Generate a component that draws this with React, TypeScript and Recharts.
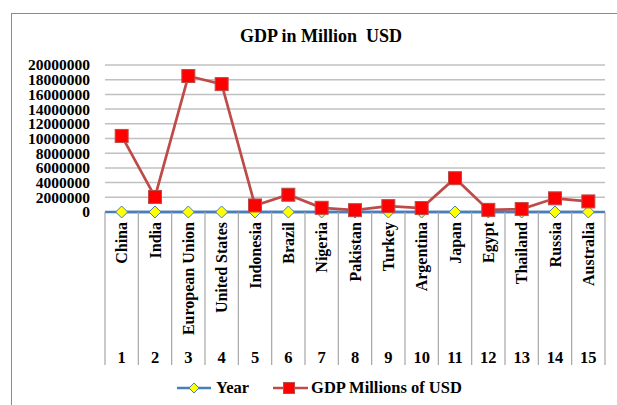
import React from "react"
import { LineChart, Line, XAxis, YAxis, CartesianGrid, Legend } from "recharts"

// ── Data ──────────────────────────────────────────────────────────────────────

const countries = [
  "China", "India", "European Union", "United States", "Indonesia",
  "Brazil", "Nigeria", "Pakistan", "Turkey", "Argentina",
  "Japan", "Egypt", "Thailand", "Russia", "Australia",
]
const ranks = [1, 2, 3, 4, 5, 6, 7, 8, 9, 10, 11, 12, 13, 14, 15]
const yearValues = [2014, 2014, 2014, 2014, 2014, 2014, 2014, 2014, 2014, 2014, 2014, 2014, 2014, 2014, 2014]
const gdpValues = [
  10350000, 2050000, 18500000, 17400000, 890000,
  2350000, 570000, 250000, 800000, 540000,
  4600000, 290000, 400000, 1860000, 1440000,
]
const yTicks = [
  0, 2000000, 4000000, 6000000, 8000000, 10000000,
  12000000, 14000000, 16000000, 18000000, 20000000,
]

const data = countries.map((c, i) => ({
  country: c,
  rank: ranks[i],
  year: yearValues[i],
  gdp: gdpValues[i],
}))

// ── Layout ────────────────────────────────────────────────────────────────────

const W = 617
const H = 405
const MARGIN = { top: 65, right: 12, left: 0, bottom: 0 }
const Y_W = 105
const X_H = 158
const LEGEND_H = 35
const PLOT_BOTTOM = H - MARGIN.bottom - LEGEND_H - X_H
const BAND = (W - MARGIN.left - Y_W - MARGIN.right) / countries.length

const FONT = '"Liberation Serif", "Times New Roman", serif'
const BLUE = "#4a7ebb"
const RED_LINE = "#be4b48"

// ── Ticks ─────────────────────────────────────────────────────────────────────

function YTick({ x, y, payload }: any) {
  return (
    <text
      x={x - 7}
      y={y}
      dy="0.35em"
      textAnchor="end"
      style={{ fontFamily: FONT, fontSize: 15.5, fontWeight: 700, fill: "#000" }}
    >
      {payload.value}
    </text>
  )
}

function XTick({ x, index }: any) {
  const last = index === countries.length - 1
  return (
    <g>
      <line x1={x - BAND / 2} x2={x - BAND / 2} y1={PLOT_BOTTOM} y2={PLOT_BOTTOM + 153} stroke="#a6a6a6" strokeWidth={1.2} />
      {last && (
        <line x1={x + BAND / 2} x2={x + BAND / 2} y1={PLOT_BOTTOM} y2={PLOT_BOTTOM + 153} stroke="#a6a6a6" strokeWidth={1.2} />
      )}
      <text
        transform={`translate(${x}, ${PLOT_BOTTOM + 10}) rotate(-90)`}
        dy="0.35em"
        textAnchor="end"
        style={{ fontFamily: FONT, fontSize: 16, fontWeight: 700, fill: "#000" }}
      >
        {countries[index]}
      </text>
      <text
        x={x}
        y={PLOT_BOTTOM + 145}
        dy="0.35em"
        textAnchor="middle"
        style={{ fontFamily: FONT, fontSize: 16.5, fontWeight: 700, fill: "#000" }}
      >
        {ranks[index]}
      </text>
    </g>
  )
}

// ── Markers ───────────────────────────────────────────────────────────────────

function Diamond({ cx, cy, size = 6 }: any) {
  if (cx == null || cy == null) return null
  const r = size
  return (
    <path
      d={`M${cx},${cy - r} L${cx + r},${cy} L${cx},${cy + r} L${cx - r},${cy} Z`}
      fill="#ffff00"
      stroke={BLUE}
      strokeWidth={1}
    />
  )
}

function Square({ cx, cy, size = 13 }: any) {
  if (cx == null || cy == null) return null
  return (
    <rect
      x={cx - size / 2}
      y={cy - size / 2}
      width={size}
      height={size}
      fill="#ff0000"
      stroke={RED_LINE}
      strokeWidth={1}
    />
  )
}

// ── Legend ────────────────────────────────────────────────────────────────────

function LegendContent() {
  const text = { fontFamily: FONT, fontSize: 16.5, fontWeight: 700, color: "#000" }
  return (
    <div
      style={{
        height: LEGEND_H,
        display: "flex",
        alignItems: "center",
        justifyContent: "center",
        paddingLeft: 34,
        gap: 24,
      }}
    >
      <div style={{ display: "flex", alignItems: "center", gap: 5 }}>
        <svg width={34} height={14}>
          <line x1={0} x2={34} y1={7} y2={7} stroke={BLUE} strokeWidth={2.5} />
          <Diamond cx={17} cy={7} size={5} />
        </svg>
        <span style={text}>Year</span>
      </div>
      <div style={{ display: "flex", alignItems: "center", gap: 3 }}>
        <svg width={35} height={14}>
          <line x1={0} x2={35} y1={7} y2={7} stroke={RED_LINE} strokeWidth={2.5} />
          <Square cx={16} cy={7} size={11} />
        </svg>
        <span style={text}>GDP Millions of USD</span>
      </div>
    </div>
  )
}

// ── Component ─────────────────────────────────────────────────────────────────

export default function App() {
  return (
    <div style={{ position: "absolute", left: 0, top: 0, width: W, height: H, background: "#fff", overflow: "hidden" }}>
      <div
        style={{
          position: "absolute",
          left: 11,
          top: 13,
          width: 640,
          height: 420,
          border: "1.5px solid #8a8a8a",
          boxSizing: "border-box",
        }}
      />
      <div
        style={{
          position: "absolute",
          left: 0,
          top: 26,
          width: 642,
          textAlign: "center",
          fontFamily: FONT,
          fontSize: 18,
          lineHeight: "20px",
          fontWeight: 700,
          color: "#000",
          whiteSpace: "pre",
        }}
      >
        {"GDP in Million  USD"}
      </div>
      <div style={{ position: "absolute", left: 0, top: 0 }}>
        <LineChart width={W} height={H} data={data} margin={MARGIN}>
          <CartesianGrid vertical={false} stroke="#c0c0c0" strokeWidth={1.5} />
          <XAxis
            dataKey="country"
            interval={0}
            height={X_H}
            padding={{ left: BAND / 2, right: BAND / 2 }}
            tickLine={false}
            axisLine={{ stroke: BLUE, strokeWidth: 2.5 }}
            tick={<XTick />}
          />
          <YAxis
            width={Y_W}
            domain={[0, 20000000]}
            ticks={yTicks}
            interval={0}
            axisLine={false}
            tickLine={false}
            tick={<YTick />}
          />
          <Legend verticalAlign="bottom" height={LEGEND_H} content={<LegendContent />} />
          <Line
            dataKey="year"
            name="Year"
            stroke={BLUE}
            strokeWidth={2.5}
            dot={(p: any) => <Diamond key={`dia-${p.index}`} cx={p.cx} cy={p.cy} />}
            isAnimationActive={false}
          />
          <Line
            dataKey="gdp"
            name="GDP Millions of USD"
            stroke={RED_LINE}
            strokeWidth={2.7}
            dot={(p: any) => <Square key={`sq-${p.index}`} cx={p.cx} cy={p.cy} />}
            isAnimationActive={false}
          />
        </LineChart>
      </div>
    </div>
  )
}
